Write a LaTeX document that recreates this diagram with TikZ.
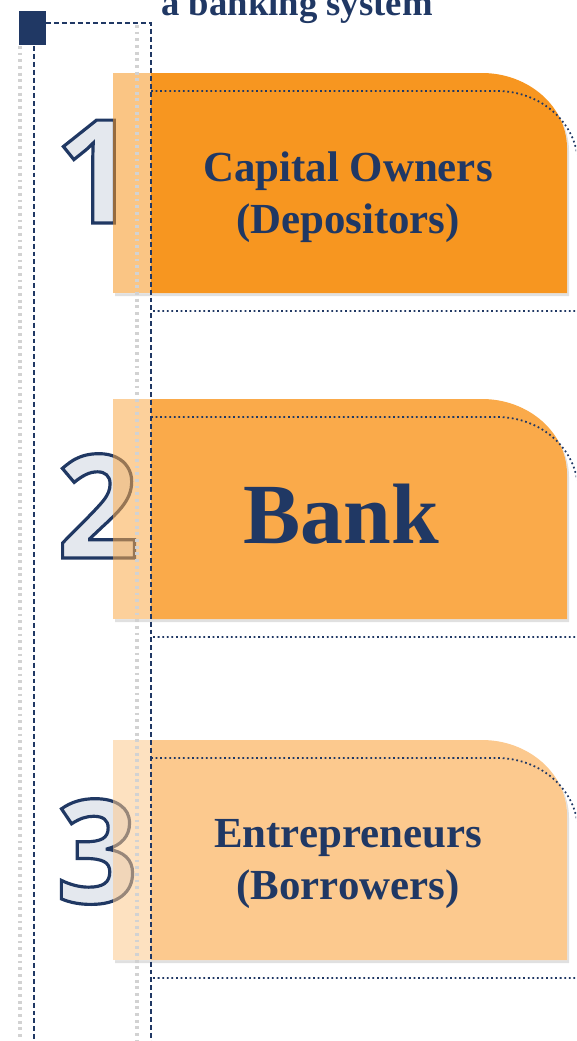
\documentclass[tikz,border=0pt]{standalone}
\usepackage{fontspec}
\setmainfont{Liberation Serif}
\newfontfamily\digitfont{Open Sans}
\usepackage{tikz}
\usetikzlibrary{positioning}
\definecolor{navy}{RGB}{32,56,100}
\definecolor{orangeA}{RGB}{247,150,32}
\definecolor{orangeB}{RGB}{250,170,74}
\definecolor{orangeC}{RGB}{252,201,142}
\definecolor{digitfill}{RGB}{228,232,238}
\newcommand{\hollow}[1]{{\color{digitfill}\special{pdf:literal direct 2 Tr 1.8 w 0.125 0.22 0.39 RG}#1\special{pdf:literal direct 0 Tr}}}
\newcommand{\tabcard}[2]{%
  \fill[drop] (115,{#1+3}) -- (484,{#1+3}) .. controls (531,{#1+3}) and (569,{#1+37}) .. (569,{#1+78}) -- (569,{#1+223}) -- (115,{#1+223}) -- cycle;
  \fill[white] (113,#1) -- (482,#1) .. controls (529,#1) and (567,{#1+34}) .. (567,{#1+75}) -- (567,{#1+220}) -- (113,{#1+220}) -- cycle;
  \fill[#2] (151,#1) -- (482,#1) .. controls (529,#1) and (567,{#1+34}) .. (567,{#1+75}) -- (567,{#1+220}) -- (151,{#1+220}) -- cycle;
  \draw[rim] (151,{#1+18}) -- (497,{#1+18}) .. controls (542,{#1+18}) and (578,{#1+51}) .. (578,{#1+92}) -- (578,{#1+238}) -- (153,{#1+238});
}
\tikzset{
  guide/.style={draw=navy,line width=0.7pt,dash pattern=on 2.8pt off 1.7pt},
  ghost/.style={draw=gray!35,line width=2.2pt,dash pattern=on 1.6pt off 2.2pt},
  rim/.style={draw=navy,line width=1pt,dash pattern=on 1pt off 1.6pt},
  drop/.style={fill=black,fill opacity=0.12},
  strip/.style={fill opacity=0.55},
  num/.style={anchor=base,inner sep=0pt,font=\digitfont\bfseries\fontsize{82}{84}\selectfont},
  txt/.style={align=center,text=navy,inner sep=0pt,font=\bfseries\fontsize{24.4}{29.5}\selectfont},
}

\begin{document}
\begin{tikzpicture}[x=0.02cm,y=-0.02cm]
  \useasboundingbox (0,0) rectangle (576,1041);
  \clip (0,0) rectangle (576,1041);
  \node[anchor=base,text=navy,inner sep=0pt,font=\bfseries\fontsize{20.9}{24}\selectfont] (title) at (297,15) {a banking system};
  % the three levels
  \tabcard{73}{orangeA}
  \node[num] (one) at (96,223) {\hollow{1}};
  \fill[orangeA,strip] (113,73) rectangle (151,293);
  \node[txt] (owners) at (348,197) {Capital Owners\\(Depositors)};
  \tabcard{399}{orangeB}
  \node[num] (two) at (98,558) {\hollow{2}};
  \fill[orangeB,strip] (113,399) rectangle (151,619);
  \node[anchor=base,text=navy,inner sep=0pt,font=\bfseries\fontsize{48.8}{50}\selectfont] (bank) at (341,543) {Bank};
  \tabcard{740}{orangeC}
  \node[num] (three) at (97,903) {\hollow{3}};
  \fill[orangeC,strip] (113,740) rectangle (151,960);
  \node[txt] (borrowers) at (348,864) {Entrepreneurs\\(Borrowers)};
  % frame
  \draw[ghost] (20,46) -- (20,1041);
  \draw[ghost] (137,25) -- (137,1041);
  \fill[navy] (19,11) rectangle (46,45);
  \draw[guide] (34,46) -- (34,1041);
  \draw[guide] (46,23) -- (151,23) -- (151,1041);
\end{tikzpicture}
\end{document}
